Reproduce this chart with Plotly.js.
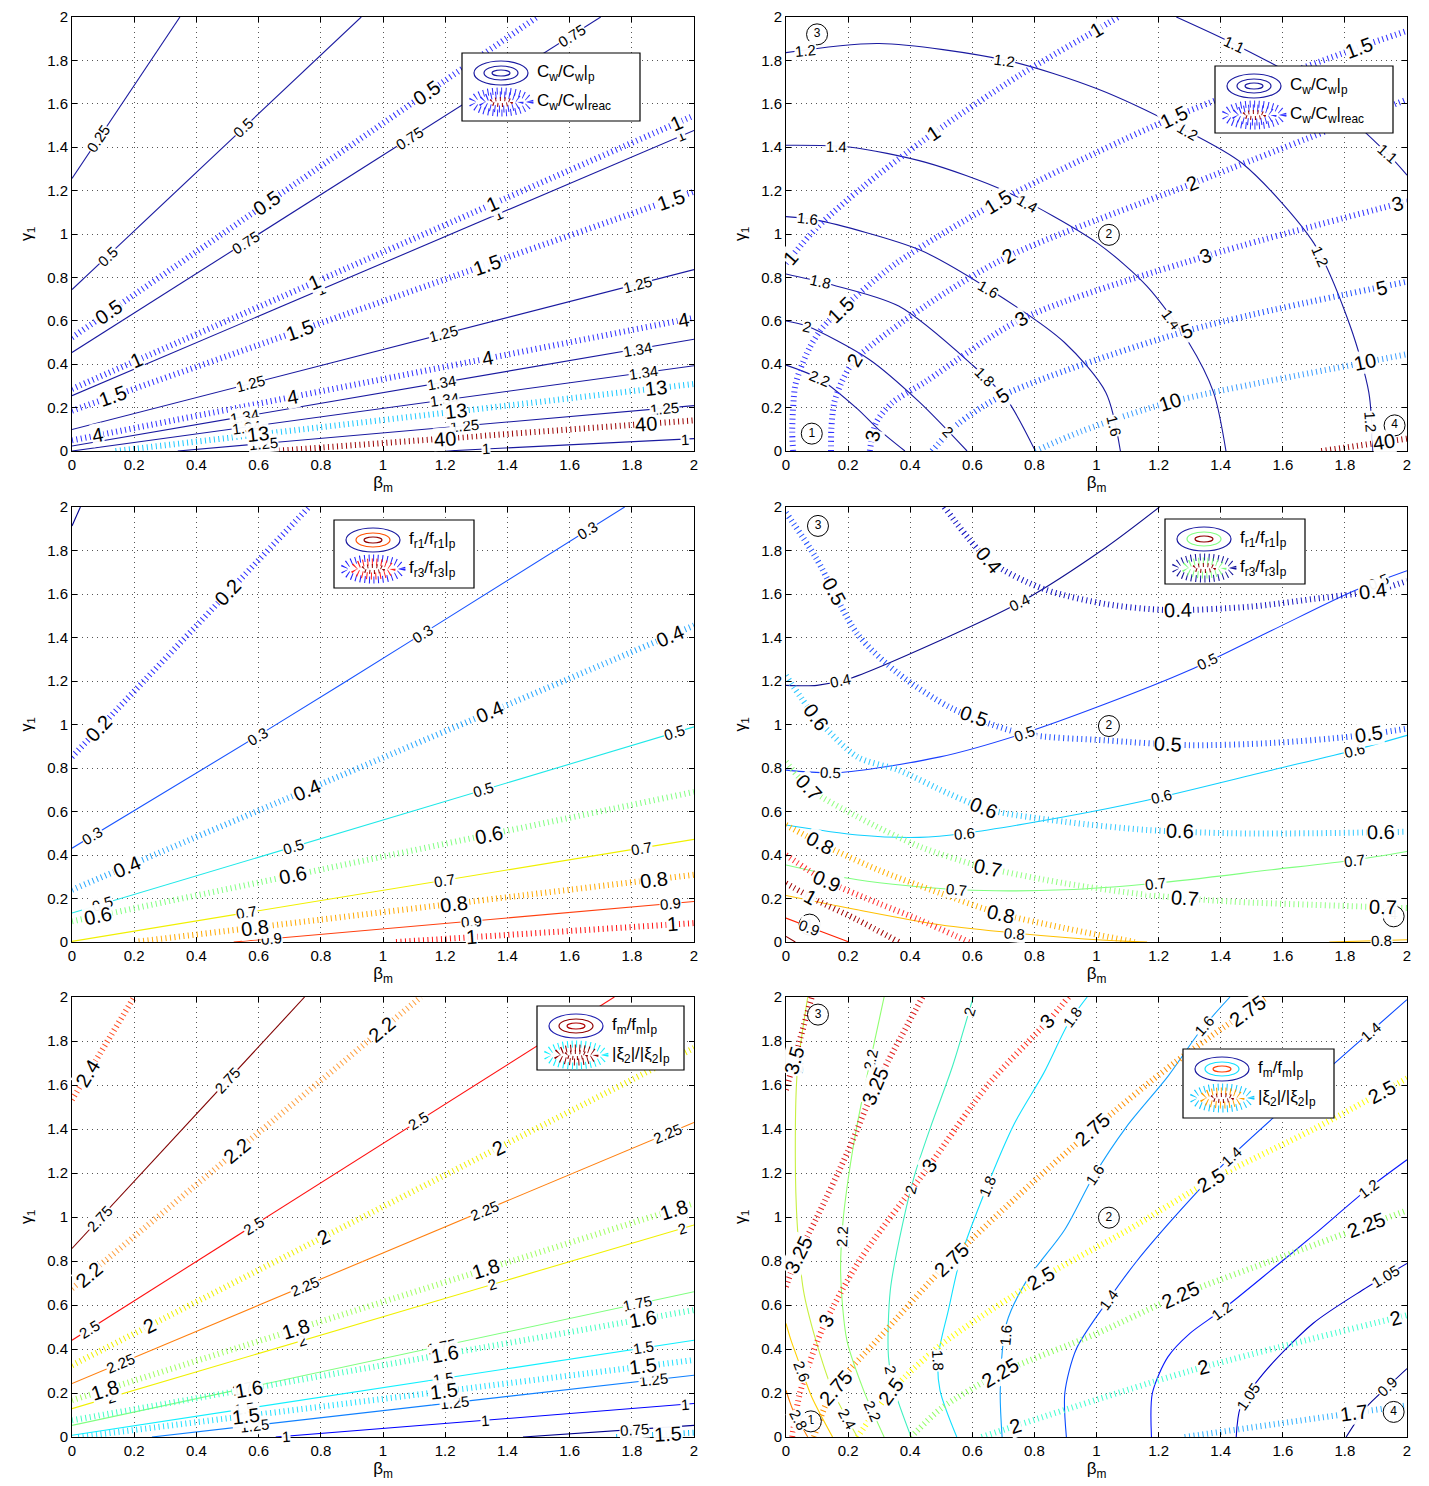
<!DOCTYPE html>
<html><head><meta charset="utf-8">
<script src="https://cdn.plot.ly/plotly-3.0.1.min.js"></script>
<style>html,body{margin:0;padding:0;background:#fff}</style>
</head><body><div id="chart" style="width:1429px;height:1486px"></div>
<script>
// ---------- DATA ----------
// each row: [level, x points, y points, label positions [[x,y],...]]
const P1_SOLID = [
 ['0.25',[0,0.347],[1.256,2],[[0.094,1.43]]],
 ['0.5',[0,0.93],[0.744,2],[[0.12,0.89],[0.554,1.485]]],
 ['0.75',[0,1.70],[0.454,2],[[0.56,0.958],[1.089,1.43],[1.61,1.91]]],
 ['1',[0,2],[0.255,1.477],[[0.80,0.74],[1.37,1.09],[1.96,1.45]]],
 ['1.25',[0,2],[0.099,0.836],[[0.574,0.309],[1.196,0.538],[1.817,0.775]]],
 ['1.34',[0,2],[0.023,0.515],[[0.554,0.163],[1.189,0.316],[1.817,0.469]]],
 ['1.34',[0,2],[0,0.393],[[0.56,0.11],[1.2,0.225],[1.837,0.362]]],
 ['1.25',[0.34,2],[0,0.209],[[0.615,0.034],[1.263,0.118],[1.904,0.194]]],
 ['1',[1.2,2],[0,0.057],[[1.33,0.01],[1.97,0.053]]]
];
const P1_DOTTED = [
 ['0.5',[0,1.496],[0.523,2],[[0.12,0.637],[0.635,1.126],[1.142,1.646]]],
 ['1',[0,2],[0.286,1.546],[[0.214,0.40],[0.78,0.78],[1.35,1.14],[1.95,1.49]]],
 ['1.5',[0,2],[0.186,1.195],[[0.134,0.248],[0.735,0.553],[1.336,0.851],[1.93,1.141]]],
 ['4',[0,2],[0.049,0.614],[[0.08,0.08],[0.708,0.255],[1.336,0.438],[1.964,0.614]]],
 ['13',[0.14,2],[0,0.309],[[0.6,0.072],[1.236,0.186],[1.877,0.286]]],
 ['40',[0.65,2],[0,0.141],[[1.2,0.064],[1.844,0.133]]]
];
const P2_SOLID = [
 ['1.2',[0,0.3,0.71,1.0,1.27,1.47,1.70,1.817,1.877,1.89],[1.836,1.878,1.80,1.67,1.49,1.325,0.958,0.576,0.27,0],[[0.063,1.844],[0.703,1.806],[1.29,1.462],[1.737,0.905],[1.884,0.133]]],
 ['1.1',[1.257,1.444,1.697,1.937,2],[2,1.875,1.676,1.37,1.271],[[1.444,1.875],[1.937,1.37]]],
 ['1.4',[0,0.203,0.45,0.71,1.003,1.163,1.297,1.377,1.417],[1.409,1.401,1.33,1.195,0.958,0.759,0.5,0.27,0],[[0.163,1.404],[0.776,1.141],[1.257,0.622]]],
 ['1.6',[0,0.096,0.43,0.656,0.897,1.03,1.077],[1.08,1.065,0.927,0.744,0.5,0.27,0],[[0.069,1.073],[0.656,0.752],[1.057,0.118]]],
 ['1.8',[0,0.123,0.363,0.603,0.71,0.803],[0.816,0.775,0.668,0.393,0.24,0],[[0.11,0.775],[0.643,0.347]]],
 ['2',[0,0.067,0.267,0.43,0.583],[0.599,0.576,0.423,0.225,0],[[0.067,0.576],[0.536,0.11]]],
 ['2.2',[0,0.109,0.23,0.296,0.383],[0.396,0.332,0.194,0.102,0],[[0.109,0.332]]]
];
const P2_DOTTED = [
 ['1',[0,0.1,0.25,0.47,0.75,1.0,1.07],[0.866,1.03,1.22,1.46,1.73,1.94,2],[[0.023,0.88],[0.47,1.477],[0.997,1.944]]],
 ['1.5',[0.023,0.02,0.029,0.045,0.077,0.119,0.176,0.35,0.683,1.25,1.844,2],[0,0.097,0.295,0.373,0.479,0.571,0.65,0.86,1.149,1.539,1.859,1.936],[[0.176,0.65],[0.683,1.149],[1.25,1.539],[1.844,1.859]]],
 ['2',[0.145,0.146,0.155,0.18,0.222,0.45,0.716,1.31,2],[0,0.1,0.22,0.32,0.42,0.67,0.897,1.233,1.62],[[0.222,0.419],[0.716,0.897],[1.31,1.233]]],
 ['3',[0.27,0.29,0.34,0.45,0.757,1.35,2],[0,0.13,0.22,0.32,0.607,0.897,1.15],[[0.287,0.065],[0.757,0.607],[1.35,0.897],[1.97,1.126]]],
 ['5',[0.47,0.55,0.696,1.29,2],[0,0.12,0.255,0.553,0.78],[[0.696,0.255],[1.29,0.553],[1.917,0.752]]],
 ['10',[0.803,0.95,1.237,1.864,2],[0,0.09,0.225,0.408,0.446],[[1.237,0.225],[1.864,0.408]]],
 ['40',[1.724,2],[0,0.057],[[1.924,0.05]]]
];
const P3_SOLID = [
 ['0.2',[0,0.027],[1.913,2],[]],
 ['0.3',[0,0.6,1.13,1.777],[0.431,0.95,1.42,2],[[0.067,0.484],[0.595,0.95],[1.129,1.416],[1.657,1.89]]],
 ['0.5',[0,2],[0.133,0.989],[[0.1,0.171],[0.715,0.431],[1.323,0.698],[1.937,0.958]]],
 ['0.7',[0,2],[0.003,0.472],[[0.561,0.133],[1.196,0.286],[1.83,0.431]]],
 ['0.9',[0.52,2],[0,0.186],[[0.641,0.026],[1.283,0.095],[1.924,0.171]]]
];
const P3_DOTTED = [
 ['0.2',[0,0.762],[0.851,2],[[0.094,0.973],[0.508,1.6]]],
 ['0.4',[0,2],[0.24,1.455],[[0.174,0.354],[0.755,0.706],[1.343,1.057],[1.924,1.409]]],
 ['0.6',[0,2],[0.095,0.69],[[0.087,0.087],[0.715,0.286],[1.343,0.477]]],
 ['0.8',[0.2,2],[0,0.309],[[0.588,0.064],[1.229,0.179],[1.87,0.286]]],
 ['1',[1.042,2],[0,0.087],[[1.283,0.026],[1.93,0.072]]]
];
const P4_SOLID = [
 ['0.4',[0,0.1,0.203,0.496,0.763,1.03,1.203],[1.18,1.18,1.21,1.386,1.569,1.814,2],[[0.176,1.2],[0.757,1.546]]],
 ['0.5',[0,0.163,0.496,0.763,1.03,1.297,1.564,1.83,2],[0.79,0.778,0.851,0.958,1.095,1.248,1.432,1.615,1.707],[[0.143,0.775],[0.77,0.95],[1.357,1.286],[1.91,1.653]]],
 ['0.6',[0,0.23,0.43,0.576,0.897,1.163,1.564,1.83,2],[0.538,0.492,0.481,0.5,0.576,0.652,0.79,0.882,0.95],[[0.576,0.5],[1.21,0.66],[1.83,0.882]]],
 ['0.7',[0,0.23,0.563,0.897,1.19,1.564,1.83,2],[0.354,0.286,0.24,0.24,0.27,0.332,0.377,0.416],[[0.55,0.24],[1.19,0.273],[1.83,0.377]]],
 ['0.8',[0,0.23,0.496,0.736,1.03,1.163],[0.214,0.148,0.079,0.041,0.008,0],[[0.736,0.034]]],
 ['0.8',[1.75,2],[0,0.01],[[1.917,0.01]]],
 ['0.9',[0,0.096,0.203],[0.11,0.057,0],[[0.076,0.072]]],
 ['1',[0,0.03],[0.026,0],[]]
];
const P4_DOTTED = [
 ['0.4',[0.51,0.656,0.83,1.03,1.23,1.497,1.697,1.897,2],[2,1.752,1.623,1.554,1.526,1.542,1.577,1.615,1.66],[[0.656,1.76],[1.263,1.523],[1.89,1.615]]],
 ['0.5',[0,0.096,0.23,0.363,0.536,0.763,1.03,1.297,1.564,1.83,2],[1.974,1.768,1.416,1.233,1.073,0.958,0.927,0.905,0.915,0.946,0.981],[[0.143,1.6],[0.603,1.034],[1.23,0.9],[1.877,0.95]]],
 ['0.6',[0,0.096,0.23,0.363,0.523,0.656,0.897,1.163,1.43,1.697,2],[1.225,1.034,0.851,0.79,0.683,0.607,0.553,0.515,0.5,0.5,0.507],[[0.096,1.034],[0.636,0.607],[1.27,0.492],[1.917,0.5]]],
 ['0.7',[0,0.083,0.23,0.43,0.63,0.897,1.163,1.43,1.697,2],[0.828,0.698,0.576,0.439,0.347,0.27,0.217,0.186,0.171,0.156],[[0.083,0.72],[0.65,0.339],[1.283,0.194],[1.924,0.148]]],
 ['0.8',[0,0.11,0.296,0.496,0.683,0.897,1.123],[0.538,0.454,0.332,0.225,0.133,0.064,0],[[0.11,0.454],[0.69,0.125]]],
 ['0.9',[0,0.123,0.296,0.43,0.59],[0.4,0.286,0.179,0.102,0],[[0.13,0.278]]],
 ['1',[0,0.096,0.23,0.363],[0.27,0.194,0.102,0],[[0.076,0.2]]]
];
const P5_SOLID = [
 ['2.75',[0,0.748],[0.857,2],[[0.1,0.979],[0.508,1.608]]],
 ['2.5',[0,1.744],[0.44,2],[[0.06,0.478],[0.588,0.956],[1.116,1.434]]],
 ['2.25',[0,2],[0.243,1.43],[[0.16,0.319],[0.748,0.683],[1.329,1.024],[1.917,1.373]]],
 ['2',[0,2],[0.129,0.964],[[0.127,0.175],[0.741,0.432],[1.35,0.69],[1.964,0.941]]],
 ['1.75',[0,2],[0.053,0.66],[[0.561,0.22],[1.189,0.402],[1.817,0.607]]],
 ['1.5',[0,2],[0.008,0.44],[[0.555,0.129],[1.196,0.266],[1.837,0.402]]],
 ['1.25',[0.257,2],[0,0.281],[[0.588,0.053],[1.229,0.159],[1.87,0.258]]],
 ['1',[0.655,2],[0,0.152],[[0.688,0.004],[1.329,0.076],[1.97,0.144]]],
 ['0.75',[1.45,2],[0,0.053],[[1.81,0.038]]]
];
const P5_DOTTED = [
 ['2.4',[0,0.2],[1.533,2],[[0.06,1.646]]],
 ['2.2',[0,1.122],[0.675,2],[[0.06,0.728],[0.535,1.29],[1.0,1.851]]],
 ['2',[0,2],[0.326,1.768],[[0.247,0.508],[0.808,0.91],[1.369,1.32]]],
 ['1.8',[0,2],[0.167,1.062],[[0.107,0.212],[0.722,0.486],[1.329,0.766],[1.937,1.024]]],
 ['1.6',[0,2],[0.076,0.577],[[0.574,0.19],[1.202,0.364],[1.837,0.524]]],
 ['1.5',[0.02,2],[0,0.35],[[0.561,0.091],[1.196,0.212],[1.837,0.319]]],
 ['1.5 ',[1.75,2],[0,0.02],[[1.917,0.015]]]
];
const P6_SOLID = [
 ['0.9',[1.804,1.87,1.937,2],[0,0.137,0.228,0.311],[[1.937,0.228]]],
 ['1.05',[1.45,1.464,1.537,1.697,1.857,2],[0,0.137,0.288,0.516,0.668,0.789],[[1.484,0.19],[1.93,0.728]]],
 ['1.2',[1.177,1.18,1.23,1.30,1.404,1.564,1.697,1.87,2],[0,0.2,0.364,0.47,0.577,0.76,0.915,1.123,1.26],[[1.404,0.577],[1.877,1.13]]],
 ['1.4',[0.903,0.898,0.935,1.03,1.13,1.27,1.43,1.6,1.8,2],[0,0.2,0.4,0.607,0.8,1.03,1.27,1.49,1.74,1.988],[[1.043,0.622],[1.43,1.282],[1.884,1.844]]],
 ['1.6',[0.696,0.69,0.71,0.776,0.897,0.99,1.097,1.23,1.337,1.43],[0,0.212,0.516,0.713,0.941,1.184,1.411,1.639,1.851,2],[[0.703,0.463],[0.99,1.199],[1.35,1.866]]],
 ['1.8',[0.55,0.496,0.49,0.523,0.563,0.643,0.736,0.83,0.91,0.97],[0,0.212,0.364,0.577,0.819,1.123,1.426,1.654,1.882,2],[[0.496,0.349],[0.65,1.138],[0.937,1.897]]],
 ['2',[0.403,0.35,0.33,0.336,0.376,0.416,0.47,0.536,0.603],[0,0.212,0.364,0.668,0.971,1.199,1.426,1.684,2],[[0.35,0.311],[0.403,1.123],[0.6,1.927]]],
 ['2.2',[0.316,0.25,0.196,0.176,0.183,0.203,0.23,0.263,0.316],[0,0.212,0.44,0.744,0.971,1.199,1.426,1.654,2],[[0.263,0.106],[0.19,0.91],[0.276,1.715]]],
 ['2.4',[0.23,0.15,0.096,0.056,0.036,0.03,0.036,0.07],[0,0.212,0.44,0.668,0.971,1.275,1.654,2],[[0.184,0.07],[0.043,1.7]]],
 ['2.6',[0.15,0.083,0.043,0.016,0],[0,0.182,0.334,0.44,0.516],[[0.03,0.288]]],
 ['2.8',[0.07,0.023,0],[0,0.121,0.212],[[0.016,0.06]]]
];
const P6_DOTTED = [
 ['1.7',[1.284,2],[0,0.144],[[1.83,0.091]]],
 ['2',[0.63,1.3,2],[0,0.3,0.554],[[0.736,0.06],[1.344,0.326],[1.964,0.539]]],
 ['2.25',[0.403,0.5,0.69,1.0,1.27,1.6,2],[0,0.13,0.29,0.47,0.645,0.82,1.03],[[0.69,0.288],[1.27,0.645],[1.871,0.956]]],
 ['2.5',[0.23,0.34,0.5,0.82,1.1,1.37,1.7,2],[0,0.21,0.42,0.72,0.94,1.168,1.4,1.63],[[0.336,0.212],[0.823,0.721],[1.37,1.168],[1.924,1.555]]],
 ['2.75',[0.09,0.15,0.3,0.52,0.75,0.99,1.25,1.55],[0,0.21,0.45,0.79,1.1,1.4,1.7,2],[[0.163,0.22],[0.523,0.819],[0.99,1.396],[1.484,1.942]]],
 ['3',[0.02,0.045,0.12,0.238,0.46,0.65,0.85,0.91],[0,0.2,0.5,0.805,1.23,1.6,1.9,2],[[0.13,0.531],[0.463,1.229],[0.843,1.889]]],
 ['3.25',[0,0.03,0.1,0.2,0.29,0.44],[0.683,0.8,1.0,1.3,1.6,2],[[0.03,0.835],[0.29,1.593]]],
 ['3.5',[0,0.083],[1.578,2],[[0.023,1.715]]]
];
// numbered region markers (plots 2, 4, 6)
const MARK_NUM = ['1','2','3','4'];
const MARK_P2_X = [0.083,1.04,0.1,1.96],  MARK_P2_Y = [0.08,0.996,1.92,0.118];
const MARK_P4_X = [0.076,1.04,0.103,1.957], MARK_P4_Y = [0.08,0.993,1.913,0.118];
const MARK_P6_X = [0.08,1.04,0.103,1.957], MARK_P6_Y = [0.071,0.997,1.92,0.114];
const TICKS = [0,0.2,0.4,0.6,0.8,1,1.2,1.4,1.6,1.8,2];
const TICK_TEXT = ['0','0.2','0.4','0.6','0.8','1','1.2','1.4','1.6','1.8','2'];
const LEG_TEXT = [
 ['C<sub>w</sub>/C<sub>w</sub>|<sub>p</sub>','C<sub>w</sub>/C<sub>w</sub>|<sub>reac</sub>'],
 ['C<sub>w</sub>/C<sub>w</sub>|<sub>p</sub>','C<sub>w</sub>/C<sub>w</sub>|<sub>reac</sub>'],
 ['f<sub>r1</sub>/f<sub>r1</sub>|<sub>p</sub>','f<sub>r3</sub>/f<sub>r3</sub>|<sub>p</sub>'],
 ['f<sub>r1</sub>/f<sub>r1</sub>|<sub>p</sub>','f<sub>r3</sub>/f<sub>r3</sub>|<sub>p</sub>'],
 ['f<sub>m</sub>/f<sub>m</sub>|<sub>p</sub>','|ξ<sub>2</sub>|/|ξ<sub>2</sub>|<sub>p</sub>'],
 ['f<sub>m</sub>/f<sub>m</sub>|<sub>p</sub>','|ξ<sub>2</sub>|/|ξ<sub>2</sub>|<sub>p</sub>']
];

// ---------- STYLES ----------
const NAVY='#1a1aa0';
const COL = [
 {s:{'*':NAVY}, d:{'0.5':'#2f2fff','1':'#2f2fff','1.5':'#2f2fff','4':'#2f2fff','13':'#19c8ff','40':'#9a0000'}},
 {s:{'*':NAVY}, d:{'1':'#3030ff','1.5':'#3030ff','2':'#3030ff','3':'#3030ff','5':'#2050ff','10':'#3a9cff','40':'#9a0000'}},
 {s:{'0.2':'#00008f','0.3':'#1a55ff','0.5':'#20e8e8','0.7':'#f0f000','0.9':'#ff4010'}, d:{'0.2':'#2a2aff','0.4':'#2aa8ff','0.6':'#80ff80','0.8':'#ffa800','1':'#ff1010'}},
 {s:{'0.4':'#10108f','0.5':'#1a40ff','0.6':'#10d0ff','0.7':'#80ff80','0.8':'#ffc000','0.9':'#ff2000','1':'#900000'}, d:{'0.4':'#1010c0','0.5':'#2050ff','0.6':'#30c8ff','0.7':'#90ff80','0.8':'#ffb000','0.9':'#ff3030','1':'#a00000'}},
 {s:{'2.75':'#800000','2.5':'#ff1010','2.25':'#ff8010','2':'#f0f000','1.75':'#80ff80','1.5':'#10f0ff','1.25':'#1080ff','1':'#0000ff','0.75':'#00008f'}, d:{'2.4':'#ff4a20','2.2':'#ffa040','2':'#f0f000','1.8':'#a0ff60','1.6':'#40ffc0','1.5':'#20e0ff','1.5 ':'#00c0ff'}},
 {s:{'0.9':'#00008f','1.05':'#0000c8','1.2':'#0818ff','1.4':'#0848ff','1.6':'#10a0ff','1.8':'#10e0ff','2':'#40f0c0','2.2':'#90ff70','2.4':'#c8f040','2.6':'#ffd000','2.8':'#ff8000'}, d:{'1.7':'#30b0ff','2':'#40ffd0','2.25':'#90ff60','2.5':'#ffff00','2.75':'#ff9000','3':'#ff3020','3.25':'#e02020','3.5':'#c00000'}}
];
const LEG_BOX = [[462,53,640,121],[1215,66,1393,133],[334,520,474,588],[1165,519,1305,584],[537,1006,684,1070],[1183,1049,1334,1118]];
const LEG_SOLID = [[NAVY,NAVY,NAVY],[NAVY,NAVY,NAVY],[NAVY,'#ff5000','#900000'],[NAVY,'#80ff80','#900000'],['#2020b0','#900000','#b00000'],[NAVY,'#10e0ff','#ff4000']];
const LEG_DOT = [['#2f2fff','#2f2fff','#9a0000'],['#2f2fff','#2f2fff','#9a0000'],['#2020ff','#ff2020','#900000'],['#10109a','#80ff80','#900000'],['#10f0ff','#900000','#900000'],['#10c8ff','#ffa000','#900000']];

const W=1429, H=1486;
const COLS=[[72,694],[786,1407]], ROWS=[[17,451],[507,942],[997,1437]];
const FONT='Liberation Sans, Arial, Helvetica, sans-serif';
const traces=[], annotations=[], shapes=[];
const layout={width:W,height:H,margin:{l:0,r:0,t:0,b:0},paper_bgcolor:'#fff',plot_bgcolor:'#fff',showlegend:false,font:{family:FONT,color:'#000'}};

const PLOTS=[[P1_SOLID,P1_DOTTED],[P2_SOLID,P2_DOTTED],[P3_SOLID,P3_DOTTED],[P4_SOLID,P4_DOTTED],[P5_SOLID,P5_DOTTED],[P6_SOLID,P6_DOTTED]];
const MARKS=[null,[MARK_P2_X,MARK_P2_Y],null,[MARK_P4_X,MARK_P4_Y],null,[MARK_P6_X,MARK_P6_Y]];

function snap(xs,ys,px,py,sx,sy){
  let best=null;
  for(let i=0;i<xs.length-1;i++){
    const ax=xs[i]*sx, ay=ys[i]*sy, bx=xs[i+1]*sx, by=ys[i+1]*sy;
    const dx=bx-ax, dy=by-ay, L=dx*dx+dy*dy||1;
    let t=((px*sx-ax)*dx+(py*sy-ay)*dy)/L; t=Math.max(0,Math.min(1,t));
    const qx=ax+t*dx, qy=ay+t*dy, d=(qx-px*sx)**2+(qy-py*sy)**2;
    if(!best||d<best.d) best={d,x:qx/sx,y:qy/sy,ang:Math.atan2(dy,dx)*180/Math.PI};
  }
  let a=best.ang; if(a>90)a-=180; if(a<-90)a+=180;
  best.ang=a; return best;
}

for(let k=0;k<6;k++){
  const c=k%2, r=Math.floor(k/2), n=k+1, sfx=n===1?'':String(n);
  const xr=COLS[c], yr=ROWS[r];
  const sx=(xr[1]-xr[0])/2, sy=(yr[1]-yr[0])/2;
  const axBase={range:[0,2],tickvals:TICKS,ticktext:TICK_TEXT,ticks:'inside',ticklen:5,tickcolor:'#000',
    showline:true,linecolor:'#000',linewidth:1,mirror:'ticks',zeroline:false,showgrid:true,gridcolor:'#555',
    griddash:'1px,4px',gridwidth:1,tickfont:{size:15,family:FONT,color:'#000'},fixedrange:true};
  layout['xaxis'+sfx]=Object.assign({},axBase,{domain:[xr[0]/W,xr[1]/W],anchor:'y'+sfx,
    title:{text:'β<sub>m</sub>',font:{size:17,family:FONT},standoff:4}});
  layout['yaxis'+sfx]=Object.assign({},axBase,{domain:[1-yr[1]/H,1-yr[0]/H],anchor:'x'+sfx,
    title:{text:'γ<sub>1</sub>',font:{size:16,family:FONT},standoff:10}});
  const [sol,dot]=PLOTS[k];
  [[sol,false],[dot,true]].forEach(([defs,isDot])=>{
    defs.forEach(([lvl,xs,ys,lbls])=>{
      const cmap=isDot?COL[k].d:COL[k].s;
      const color=cmap[lvl]||cmap['*'];
      traces.push({type:'scatter',mode:'lines',x:xs,y:ys,xaxis:'x'+sfx,yaxis:'y'+sfx,hoverinfo:'skip',
        line:{color:color,width:isDot?6:1.1,dash:isDot?'1px,3.5px':'solid',shape:xs.length>2?'spline':'linear',smoothing:0.8}});
      lbls.forEach(([lx,ly])=>{
        const s=snap(xs,ys,lx,ly,sx,sy);
        annotations.push({x:s.x,y:s.y,xref:'x'+sfx,yref:'y'+sfx,text:lvl.trim(),showarrow:false,textangle:-s.ang,
          font:{size:isDot?20:15,family:FONT,color:'#000'},bgcolor:'rgba(255,255,255,0.95)',borderpad:0});
      });
    });
  });
  if(MARKS[k]){
    traces.push({type:'scatter',mode:'markers+text',x:MARKS[k][0],y:MARKS[k][1],xaxis:'x'+sfx,yaxis:'y'+sfx,
      text:MARK_NUM,textposition:'middle center',textfont:{size:12,family:FONT,color:'#000'},cliponaxis:false,
      marker:{symbol:'circle',size:21,color:'rgba(255,255,255,0.9)',line:{color:'#000',width:1}},hoverinfo:'skip'});
  }
  // legend box
  const [bx0,by0,bx1,by1]=LEG_BOX[k];
  const X=p=>p/W, Y=p=>1-p/H;
  shapes.push({type:'rect',xref:'paper',yref:'paper',x0:X(bx0),x1:X(bx1),y0:Y(by1),y1:Y(by0),line:{color:'#000',width:1.2},fillcolor:'#fff',layer:'above'});
  const cx=bx0+39, r1=by0+20, r2=by0+49;
  const sizes=[[27,12],[17,7],[9,3]];
  sizes.forEach(([hw,hh],i)=>{
    shapes.push({type:'circle',xref:'paper',yref:'paper',x0:X(cx-hw),x1:X(cx+hw),y0:Y(r1+hh),y1:Y(r1-hh),line:{color:LEG_SOLID[k][i],width:1.2},layer:'above'});
  });
  const dsz=[[29,11],[19,7],[10,3]];
  dsz.forEach(([hw,hh],i)=>{
    shapes.push({type:'circle',xref:'paper',yref:'paper',x0:X(cx-hw),x1:X(cx+hw),y0:Y(r2+hh),y1:Y(r2-hh),line:{color:LEG_DOT[k][i],width:i===2?4:7,dash:'1px,3.5px'},layer:'above'});
  });
  annotations.push({xref:'paper',yref:'paper',x:X(bx0+73),y:Y(r1),xanchor:'left',yanchor:'middle',showarrow:false,text:LEG_TEXT[k][0],font:{size:17,family:FONT,color:'#000'}});
  annotations.push({xref:'paper',yref:'paper',x:X(bx0+73),y:Y(r2),xanchor:'left',yanchor:'middle',showarrow:false,text:LEG_TEXT[k][1],font:{size:17,family:FONT,color:'#000'}});
}
layout.annotations=annotations; layout.shapes=shapes;
Plotly.newPlot('chart',traces,layout,{displayModeBar:false,staticPlot:true});
</script></body></html>
